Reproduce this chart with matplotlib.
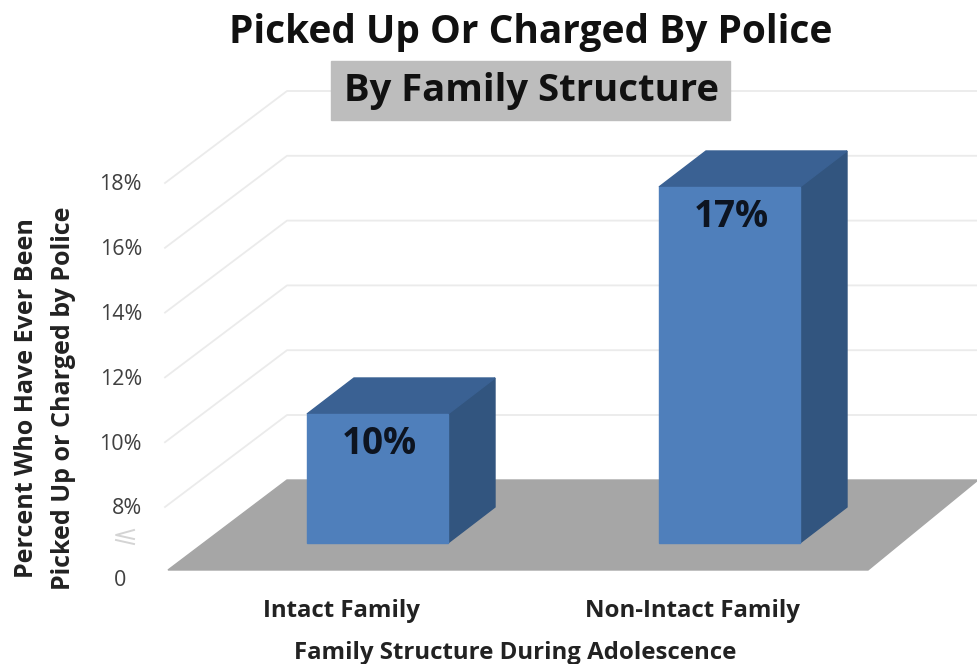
import matplotlib
matplotlib.use("Agg")
import matplotlib.pyplot as plt
from matplotlib.patches import Polygon, Rectangle

plt.rcParams["font.family"] = ["Open Sans", "DejaVu Sans"]

categories = ["Intact Family", "Non-Intact Family"]
values = [10, 17]
value_labels = ["10%", "17%"]
tick_values = [8, 10, 12, 14, 16, 18]
tick_labels = ["8%", "10%", "12%", "14%", "16%", "18%"]

BAR_FRONT = "#4f7fbb"
BAR_TOP = "#3a6193"
BAR_SIDE = "#32557f"
FLOOR = "#a6a6a6"
GRID = "#ebebeb"
TEXT = "#222222"

BASE_Y = 570
X0, X1 = 168, 868


def val_to_y(v):
    # left end of the gridline, 8% is at y=507 and 18% at y=183
    return 507 - (v - 8) * 32.4


def bar_top(v):
    # front face tops: 10 -> 414, 17 -> 187
    return 414 - (v - 10) * 32.43


fig = plt.figure(figsize=(9.78, 6.64), dpi=100)
ax = fig.add_axes([0, 0, 1, 1])
ax.set_xlim(0, 978)
ax.set_ylim(664, 0)
ax.axis("off")

# gridlines, slanted wall then back wall
for v in tick_values:
    y = val_to_y(v)
    ax.plot([165, 287, 978], [y, y - 92, y - 92], color=GRID, lw=1.3, zorder=1)

# floor
ax.add_patch(Polygon([(X0, BASE_Y), (287, 480), (978, 480), (X1, BASE_Y)],
                     closed=True, color=FLOOR, zorder=2))

# bars
bar_lefts = [307, 659]
bar_width = 141
depth_x, depth_y = 47, 36
for left, v, lab in zip(bar_lefts, values, value_labels):
    top = bar_top(v)
    right = left + bar_width
    ax.add_patch(Polygon([(right, top), (right + depth_x, top - depth_y),
                          (right + depth_x, 543 - depth_y), (right, 543)],
                         closed=True, color=BAR_SIDE, zorder=3))
    ax.add_patch(Polygon([(left, top), (left + depth_x, top - depth_y),
                          (right + depth_x, top - depth_y), (right, top)],
                         closed=True, color=BAR_TOP, zorder=3))
    ax.add_patch(Rectangle((left, top), bar_width, 543 - top, color=BAR_FRONT, zorder=4))
    ax.text(left + bar_width / 2 + 2, top + 30, lab, ha="center", va="center",
            fontsize=26.5, fontweight="bold", color="#0d1420", zorder=5)

# tick labels
for v, lab in zip(tick_values, tick_labels):
    ax.text(142, val_to_y(v) + 2, lab, ha="right", va="center", fontsize=15.5, color="#404040")
ax.text(126, 580, "0", ha="right", va="center", fontsize=15.5, color="#404040")
# axis break mark
ax.plot([134, 116, 134], [530, 535, 539], color="#d4d4d4", lw=1.4)
ax.plot([116, 134], [540, 544], color="#d4d4d4", lw=1.4)

# category labels
ax.text(341, 611, categories[0], ha="center", va="center", fontsize=17.3, fontweight="bold", color=TEXT)
ax.text(692, 611, categories[1], ha="center", va="center", fontsize=17.3, fontweight="bold", color=TEXT)
ax.text(515, 653, "Family Structure During Adolescence", ha="center", va="center",
        fontsize=17.3, fontweight="bold", color=TEXT)

# y title
ax.text(45, 398, "Percent Who Have Ever Been\nPicked Up or Charged by Police", rotation=90,
        ha="center", va="center", fontsize=18, fontweight="bold", color=TEXT, linespacing=1.6)

# titles
ax.text(531, 33, "Picked Up Or Charged By Police", ha="center", va="center",
        fontsize=28, fontweight="bold", color="#111111")
ax.add_patch(Rectangle((331, 61), 399, 59, color="#bdbdbd", zorder=6))
ax.text(531, 91, "By Family Structure", ha="center", va="center", fontsize=27.5,
        fontweight="bold", color="#111111", zorder=7)

fig.savefig("out.png", dpi=100)
